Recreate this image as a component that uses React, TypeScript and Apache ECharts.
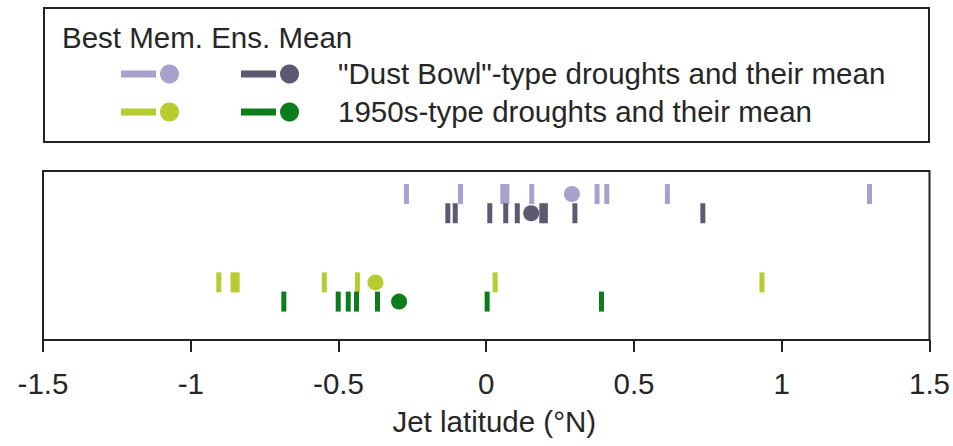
import React, { useEffect, useRef } from "react";
import * as echarts from "echarts";

// Jet latitude (°N) values
const dustBestMembers = [-0.27, -0.087, 0.056, 0.07, 0.154, 0.375, 0.408, 0.613, 1.297];
const dustBestMean = [0.29];
const dustEnsMembers = [-0.13, -0.105, 0.012, 0.066, 0.105, 0.188, 0.2, 0.3, 0.733];
const dustEnsMean = [0.152];
const fiftiesBestMembers = [-0.905, -0.857, -0.843, -0.548, -0.436, 0.03, 0.933];
const fiftiesBestMean = [-0.375];
const fiftiesEnsMembers = [-0.685, -0.501, -0.467, -0.439, -0.368, 0.003, 0.39];
const fiftiesEnsMean = [-0.295];

// row index of each group on the hidden vertical axis
const rowDustBest = 5.6;
const rowDustEns = 4.6;
const rowFiftiesBest = 1;
const rowFiftiesEns = 0;

const xTickLabels = ["-1.5", "-1", "-0.5", "0", "0.5", "1", "1.5"];

const legendTitle = "Best Mem. Ens. Mean";
const legendRows = [
  '"Dust Bowl"-type droughts and their mean',
  "1950s-type droughts and their mean",
];

const C_DUST_BEST = "#a8a1cd";
const C_DUST_ENS = "#5d5973";
const C_FIF_BEST = "#b8cb30";
const C_FIF_ENS = "#0b7d1a";
const FONT = "'Liberation Sans', Arial, sans-serif";
const FS = 29.5;
const TXT = "#262626";

const pts = (arr: number[], row: number) => arr.map((v) => [v, row]);

export default function App() {
  const ref = useRef<HTMLDivElement>(null);
  useEffect(() => {
    if (!ref.current) return;
    const chart = echarts.init(ref.current, null, { renderer: "svg" });

    const tickSeries = (name: string, data: number[], row: number, color: string, z: number) => ({
      name,
      type: "scatter",
      data: pts(data, row),
      symbol: "rect",
      symbolSize: [5, 20],
      itemStyle: { color, opacity: 1 },
      z,
      silent: true,
    });
    const meanSeries = (name: string, data: number[], row: number, color: string) => ({
      name,
      type: "scatter",
      data: pts(data, row),
      symbol: "circle",
      symbolSize: 16,
      itemStyle: { color, opacity: 1 },
      z: 5,
      silent: true,
    });

    const legendMarker = (x0: number, y: number, color: string) => [
      {
        type: "line",
        shape: { x1: x0, y1: y, x2: x0 + 35, y2: y },
        style: { stroke: color, lineWidth: 7 },
      },
      {
        type: "circle",
        shape: { cx: x0 + 48.5, cy: y, r: 9.5 },
        style: { fill: color },
      },
    ];

    const legendText = (x: number, y: number, text: string) => ({
      type: "text",
      x,
      y,
      style: { text, fontFamily: FONT, fontSize: FS, fill: TXT, verticalAlign: "middle" },
    });

    chart.setOption({
      animation: false,
      backgroundColor: "#ffffff",
      grid: {
        left: 43,
        top: 171,
        width: 887,
        height: 169,
        show: true,
        borderColor: "#222",
        borderWidth: 2,
        backgroundColor: "transparent",
      },
      xAxis: {
        type: "value",
        min: -1.5,
        max: 1.5,
        interval: 0.5,
        name: "Jet latitude (°N)",
        nameLocation: "middle",
        nameGap: 66,
        nameTextStyle: {
          fontFamily: FONT,
          fontSize: FS,
          color: TXT,
          padding: [0, 0, 0, 16],
        },
        axisLine: { show: true, onZero: false, lineStyle: { color: "#222", width: 2 } },
        axisTick: { show: true, inside: false, length: 12, lineStyle: { color: "#222", width: 2 } },
        splitLine: { show: false },
        axisLabel: {
          margin: 28,
          fontFamily: FONT,
          fontSize: FS,
          color: TXT,
          formatter: (v: number) => {
            const i = Math.round((v + 1.5) / 0.5);
            return xTickLabels[i] ?? String(v);
          },
        },
      },
      yAxis: {
        type: "value",
        min: -2,
        max: 6.8,
        show: false,
        axisLine: { onZero: false },
        splitLine: { show: false },
      },
      series: [
        tickSeries("Dust Bowl best members", dustBestMembers, rowDustBest, C_DUST_BEST, 2),
        tickSeries("Dust Bowl ensemble means", dustEnsMembers, rowDustEns, C_DUST_ENS, 3),
        tickSeries("1950s best members", fiftiesBestMembers, rowFiftiesBest, C_FIF_BEST, 2),
        tickSeries("1950s ensemble means", fiftiesEnsMembers, rowFiftiesEns, C_FIF_ENS, 3),
        meanSeries("Dust Bowl best mean", dustBestMean, rowDustBest, C_DUST_BEST),
        meanSeries("Dust Bowl ensemble mean", dustEnsMean, rowDustEns, C_DUST_ENS),
        meanSeries("1950s best mean", fiftiesBestMean, rowFiftiesBest, C_FIF_BEST),
        meanSeries("1950s ensemble mean", fiftiesEnsMean, rowFiftiesEns, C_FIF_ENS),
      ],
      graphic: [
        {
          type: "rect",
          shape: { x: 44, y: 8, width: 885, height: 134 },
          style: { fill: "#fff", stroke: "#222", lineWidth: 2 },
        },
        legendText(62, 37, legendTitle),
        ...legendMarker(121, 74, C_DUST_BEST),
        ...legendMarker(241, 74, C_DUST_ENS),
        ...legendMarker(121, 112, C_FIF_BEST),
        ...legendMarker(241, 112, C_FIF_ENS),
        legendText(338, 73, legendRows[0]),
        legendText(338, 111, legendRows[1]),
      ],
    });
    return () => chart.dispose();
  }, []);
  return (
    <div
      ref={ref}
      style={{ position: "fixed", left: 0, top: 0, width: 953, height: 446, background: "#fff" }}
    />
  );
}
